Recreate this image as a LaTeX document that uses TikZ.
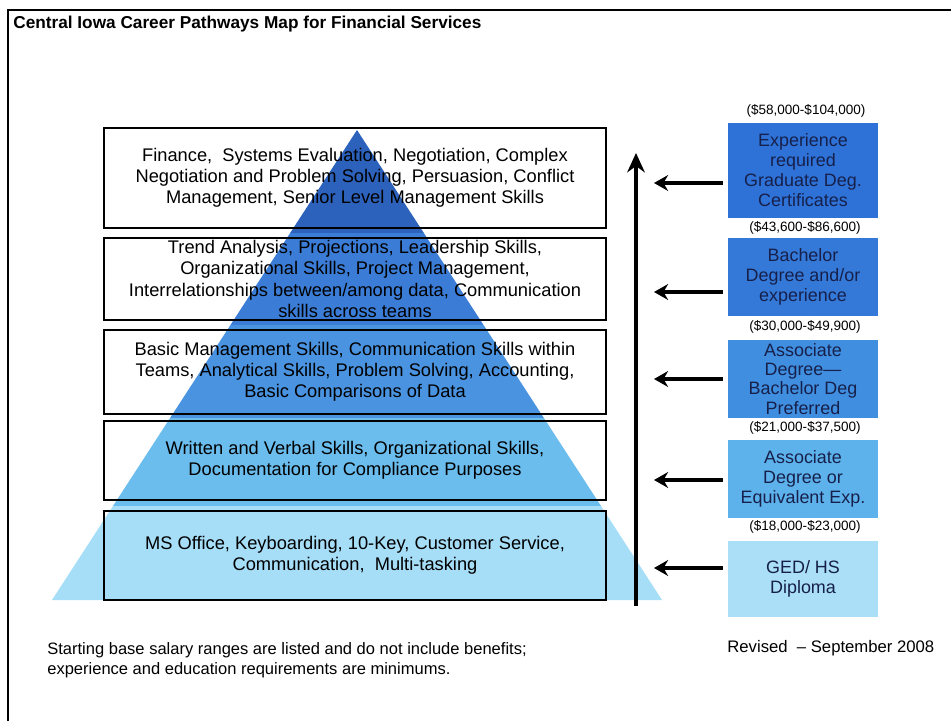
\documentclass[tikz,border=0pt]{standalone}
\usepackage{fontspec}
\setmainfont{Liberation Sans}
\usetikzlibrary{arrows.meta}

\definecolor{bandA}{HTML}{2C62BC}
\definecolor{bandB}{HTML}{3B7DD6}
\definecolor{bandC}{HTML}{4A93E0}
\definecolor{bandD}{HTML}{6BBDEE}
\definecolor{bandE}{HTML}{A6DDF7}
\definecolor{levelA}{HTML}{2E72D8}
\definecolor{levelB}{HTML}{3579D8}
\definecolor{levelC}{HTML}{408EE0}
\definecolor{levelD}{HTML}{5DB2EC}
\definecolor{levelE}{HTML}{AADFF7}
\definecolor{inkblue}{HTML}{16204A}

\tikzset{
  skill/.style={draw=black, line width=1.2pt, minimum width=100.4mm, align=center, inner sep=0pt,
    font=\fontsize{10.4}{12}\selectfont},
  level/.style={minimum width=30mm, align=center, inner sep=0pt, text=inkblue,
    font=\fontsize{10.2}{11.4}\selectfont},
  pay/.style={font=\fontsize{7.7}{8}\selectfont, inner sep=0pt},
  pointer/.style={-{Stealth[length=8pt,width=9pt]}, line width=2pt},
  riser/.style={-{Stealth[length=11pt,width=10pt]}, line width=2.6pt},
}

\begin{document}
\begin{tikzpicture}[x=0.2mm, y=-0.2mm]
\useasboundingbox (0,0) rectangle (951,721);
\draw[line width=1pt] (8,721) -- (8,10) -- (951,10);
\node[anchor=west, inner sep=0pt, font=\bfseries\fontsize{9.8}{11}\selectfont] (title) at (13,24)
  {Central Iowa Career Pathways Map for Financial Services};

\begin{scope}
\clip (357,130) -- (662,600) -- (52,600) -- cycle;
\fill[bandA] (0,120) rectangle (951,233);
\fill[bandB] (0,233) rectangle (951,325);
\fill[bandC] (0,325) rectangle (951,418);
\fill[bandD] (0,418) rectangle (951,506);
\fill[bandE] (0,506) rectangle (951,610);
\end{scope}

\node[skill, minimum height=20mm] (s5) at (355,178)
  {Finance,\ \ Systems Evaluation, Negotiation, Complex\\
   Negotiation and Problem Solving, Persuasion, Conflict\\
   Management, Senior Level Management Skills};
\node[skill, minimum height=16.4mm] (s4) at (355,279)
  {Trend Analysis, Projections, Leadership Skills,\\
   Organizational Skills, Project Management,\\
   Interrelationships between/among data, Communication\\
   skills across teams};
\node[skill, minimum height=16.8mm] (s3) at (355,372)
  {Basic Management Skills, Communication Skills within\\
   Teams, Analytical Skills, Problem Solving, Accounting,\\
   Basic Comparisons of Data};
\node[skill, minimum height=15.8mm] (s2) at (355,460.5)
  {Written and Verbal Skills, Organizational Skills,\\
   Documentation for Compliance Purposes};
\node[skill, minimum height=17.8mm] (s1) at (355,555.5)
  {MS Office, Keyboarding, 10-Key, Customer Service,\\
   Communication,\ \ Multi-tasking};

\node[level, fill=levelA, minimum height=19mm] (ra) at (803,170.5)
  {Experience\\required\\Graduate Deg.\\Certificates};
\node[level, fill=levelB, minimum height=15.6mm] (rb) at (803,277)
  {Bachelor\\Degree and/or\\experience};
\node[level, fill=levelC, minimum height=15.6mm, font=\fontsize{10.2}{10.9}\selectfont] (rc) at (803,379)
  {Associate\\Degree—\\Bachelor Deg\\Preferred};
\node[level, fill=levelD, minimum height=15.6mm] (rd) at (803,479)
  {Associate\\Degree or\\Equivalent Exp.};
\node[level, fill=levelE, minimum height=15.2mm] (re) at (803,579)
  {GED/ HS\\Diploma};

\node[pay] (pa) at (806,111) {(\$58,000-\$104,000)};
\node[pay] (pb) at (805,228) {(\$43,600-\$86,600)};
\node[pay] (pc) at (805,327) {(\$30,000-\$49,900)};
\node[pay] (pd) at (805,428) {(\$21,000-\$37,500)};
\node[pay] (pe) at (805,527) {(\$18,000-\$23,000)};

\coordinate (base) at (636,606);
\coordinate (peak) at (636,153);
\draw[riser] (base) -- (peak);

\coordinate (ta) at (654,183);
\coordinate (tb) at (654,292);
\coordinate (tc) at (654,379);
\coordinate (td) at (654,480);
\coordinate (te) at (654,568);
\draw[pointer] ([xshift=-1mm]ra.west |- ta) -- (ta);
\draw[pointer] ([xshift=-1mm]rb.west |- tb) -- (tb);
\draw[pointer] ([xshift=-1mm]rc.west |- tc) -- (tc);
\draw[pointer] ([xshift=-1mm]rd.west |- td) -- (td);
\draw[pointer] ([xshift=-1mm]re.west |- te) -- (te);

\node[anchor=west, align=left, inner sep=0pt, font=\fontsize{9.4}{11.4}\selectfont] (note) at (47,660)
  {Starting base salary ranges are listed and do not include benefits;\\
   experience and education requirements are minimums.};
\node[anchor=west, inner sep=0pt, font=\fontsize{9.5}{11}\selectfont] (rev) at (727,648)
  {Revised\ \ – September 2008};
\end{tikzpicture}
\end{document}
